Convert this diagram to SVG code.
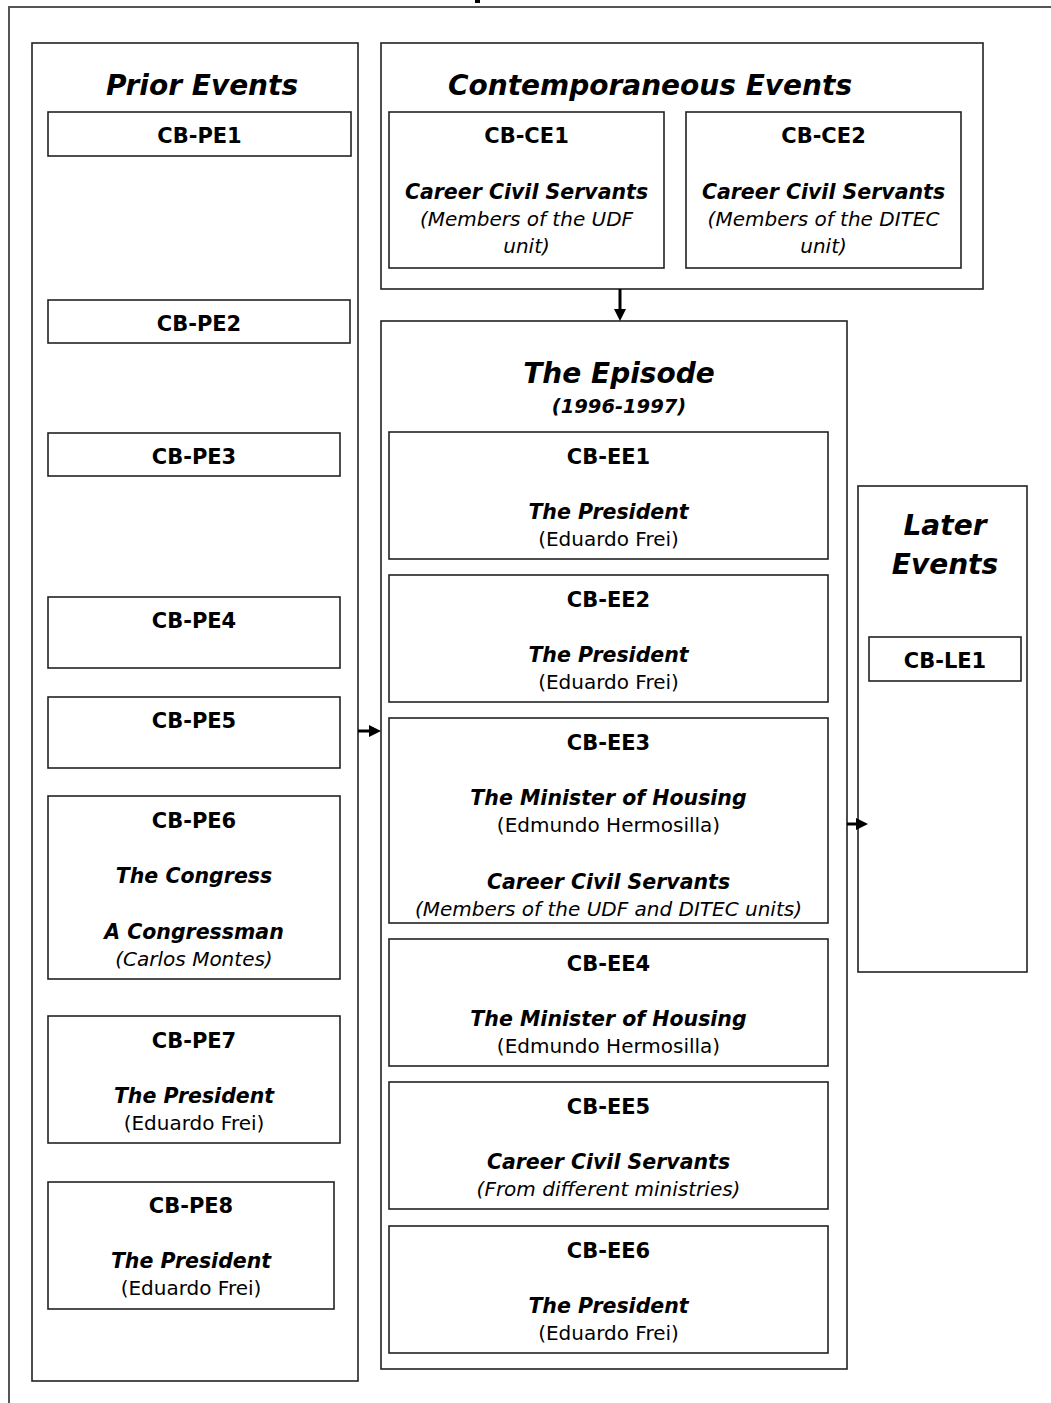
<svg xmlns="http://www.w3.org/2000/svg" width="1051" height="1403" viewBox="0 0 1051 1403">
  <style>
    text { font-family: "DejaVu Sans", Verdana, sans-serif; fill: #000; text-anchor: middle; }
    .frame { fill: none; stroke: #555; stroke-width: 2; }
    .panel { fill: #fff; stroke: #222; stroke-width: 1.6; }
    .box { fill: #fff; stroke: #222; stroke-width: 1.6; }
    .head { font-size: 28px; font-weight: bold; font-style: italic; }
    .sub { font-size: 19.5px; font-weight: bold; font-style: italic; }
    .id { font-size: 21px; font-weight: bold; }
    .role { font-size: 20.5px; font-weight: bold; font-style: italic; }
    .name { font-size: 20px; }
    .note { font-size: 20px; font-style: italic; }
    .link { stroke: #000; stroke-width: 3; fill: none; marker-end: url(#head); }
  </style>
  <defs>
    <marker id="head" markerUnits="userSpaceOnUse" markerWidth="12" markerHeight="12" refX="2" refY="6" orient="auto">
      <path d="M0,0 L12,6 L0,12 z" fill="#000"/>
    </marker>
  </defs>

  <rect width="1051" height="1403" fill="#fff"/>

  <!-- outer frame, running off the page on the right and bottom -->
  <path class="frame" d="M9,1410 V7 H1060"/>
  <!-- descender of the clipped heading above the frame -->
  <rect x="475" y="0" width="5" height="3" fill="#000"/>

  <!-- Prior events column -->
  <g id="prior-events">
    <rect class="panel" x="32" y="43" width="326" height="1338"/>
    <text class="head" x="202" y="95">Prior Events</text>
  </g>
  <g id="cb-pe1">
    <rect class="box" x="48" y="112" width="303" height="44"/>
    <text class="id" x="199.5" y="143">CB-PE1</text>
  </g>
  <g id="cb-pe2">
    <rect class="box" x="48" y="300" width="302" height="43"/>
    <text class="id" x="199" y="331">CB-PE2</text>
  </g>
  <g id="cb-pe3">
    <rect class="box" x="48" y="433" width="292" height="43"/>
    <text class="id" x="194" y="464">CB-PE3</text>
  </g>
  <g id="cb-pe4">
    <rect class="box" x="48" y="597" width="292" height="71"/>
    <text class="id" x="194" y="628">CB-PE4</text>
  </g>
  <g id="cb-pe5">
    <rect class="box" x="48" y="697" width="292" height="71"/>
    <text class="id" x="194" y="728">CB-PE5</text>
  </g>
  <g id="cb-pe6">
    <rect class="box" x="48" y="796" width="292" height="183"/>
    <text class="id" x="194" y="828">CB-PE6</text>
    <text class="role" x="194" y="883">The Congress</text>
    <text class="role" x="194" y="939">A Congressman</text>
    <text class="note" x="194" y="966">(Carlos Montes)</text>
  </g>
  <g id="cb-pe7">
    <rect class="box" x="48" y="1016" width="292" height="127"/>
    <text class="id" x="194" y="1048">CB-PE7</text>
    <text class="role" x="194" y="1103">The President</text>
    <text class="name" x="194" y="1130">(Eduardo Frei)</text>
  </g>
  <g id="cb-pe8">
    <rect class="box" x="48" y="1182" width="286" height="127"/>
    <text class="id" x="191" y="1213">CB-PE8</text>
    <text class="role" x="191" y="1268">The President</text>
    <text class="name" x="191" y="1295">(Eduardo Frei)</text>
  </g>

  <!-- Contemporaneous events -->
  <g id="contemporaneous-events">
    <rect class="panel" x="381" y="43" width="602" height="246"/>
    <text class="head" x="650" y="95">Contemporaneous Events</text>
  </g>
  <g id="cb-ce1">
    <rect class="box" x="389" y="112" width="275" height="156"/>
    <text class="id" x="526.5" y="143">CB-CE1</text>
    <text class="role" x="526.5" y="199">Career Civil Servants</text>
    <text class="note" x="526.5" y="226">(Members of the UDF</text>
    <text class="note" x="526.5" y="253">unit)</text>
  </g>
  <g id="cb-ce2">
    <rect class="box" x="686" y="112" width="275" height="156"/>
    <text class="id" x="823.5" y="143">CB-CE2</text>
    <text class="role" x="823.5" y="199">Career Civil Servants</text>
    <text class="note" x="823.5" y="226">(Members of the DITEC</text>
    <text class="note" x="823.5" y="253">unit)</text>
  </g>

  <!-- The episode -->
  <g id="the-episode">
    <rect class="panel" x="381" y="321" width="466" height="1048"/>
    <text class="head" x="619" y="383">The Episode</text>
    <text class="sub" x="619" y="413">(1996-1997)</text>
  </g>
  <g id="cb-ee1">
    <rect class="box" x="389" y="432" width="439" height="127"/>
    <text class="id" x="608.5" y="464">CB-EE1</text>
    <text class="role" x="608.5" y="519">The President</text>
    <text class="name" x="608.5" y="546">(Eduardo Frei)</text>
  </g>
  <g id="cb-ee2">
    <rect class="box" x="389" y="575" width="439" height="127"/>
    <text class="id" x="608.5" y="607">CB-EE2</text>
    <text class="role" x="608.5" y="662">The President</text>
    <text class="name" x="608.5" y="689">(Eduardo Frei)</text>
  </g>
  <g id="cb-ee3">
    <rect class="box" x="389" y="718" width="439" height="205"/>
    <text class="id" x="608.5" y="750">CB-EE3</text>
    <text class="role" x="608.5" y="805">The Minister of Housing</text>
    <text class="name" x="608.5" y="832">(Edmundo Hermosilla)</text>
    <text class="role" x="608.5" y="889">Career Civil Servants</text>
    <text class="note" x="608.5" y="916">(Members of the UDF and DITEC units)</text>
  </g>
  <g id="cb-ee4">
    <rect class="box" x="389" y="939" width="439" height="127"/>
    <text class="id" x="608.5" y="971">CB-EE4</text>
    <text class="role" x="608.5" y="1026">The Minister of Housing</text>
    <text class="name" x="608.5" y="1053">(Edmundo Hermosilla)</text>
  </g>
  <g id="cb-ee5">
    <rect class="box" x="389" y="1082" width="439" height="127"/>
    <text class="id" x="608.5" y="1114">CB-EE5</text>
    <text class="role" x="608.5" y="1169">Career Civil Servants</text>
    <text class="note" x="608.5" y="1196">(From different ministries)</text>
  </g>
  <g id="cb-ee6">
    <rect class="box" x="389" y="1226" width="439" height="127"/>
    <text class="id" x="608.5" y="1258">CB-EE6</text>
    <text class="role" x="608.5" y="1313">The President</text>
    <text class="name" x="608.5" y="1340">(Eduardo Frei)</text>
  </g>

  <!-- Later events -->
  <g id="later-events">
    <rect class="panel" x="858" y="486" width="169" height="486"/>
    <text class="head" x="945" y="535">Later</text>
    <text class="head" x="945" y="574">Events</text>
  </g>
  <g id="cb-le1">
    <rect class="box" x="869" y="637" width="152" height="44"/>
    <text class="id" x="945" y="668">CB-LE1</text>
  </g>

  <!-- connectors -->
  <g id="connectors">
    <line class="link" x1="620" y1="289" x2="620" y2="311"/>
    <line class="link" x1="358" y1="731" x2="371" y2="731"/>
    <line class="link" x1="847" y1="824" x2="858" y2="824"/>
  </g>
</svg>
